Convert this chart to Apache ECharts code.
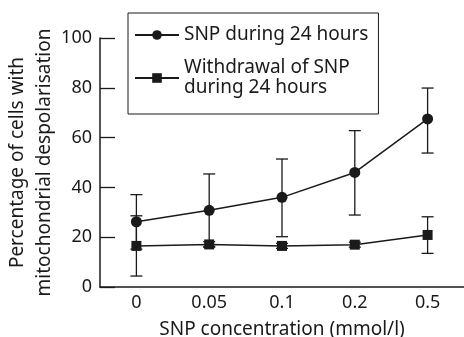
<!DOCTYPE html>
<html>
<head>
<meta charset="utf-8">
<script src="https://cdn.jsdelivr.net/npm/echarts@6/dist/echarts.min.js"></script>
<style>
  html, body { margin: 0; padding: 0; background: #fff; }
  #chart { width: 464px; height: 337px; }
</style>
</head>
<body>
<div id="chart"></div>
<script>
const categories = ['0', '0.05', '0.1', '0.2', '0.5'];
// SNP during 24 hours
const snpMean = [26.2, 30.8, 36.0, 46.0, 67.5];
const snpLow = [15.2, 16.2, 20.2, 28.9, 53.8];
const snpHigh = [37.1, 45.4, 51.4, 62.8, 79.9];
// Withdrawal of SNP during 24 hours
const wdMean = [16.5, 17.1, 16.5, 17.0, 20.9];
const wdLow = [4.4, 16.0, 15.5, 16.0, 13.5];
const wdHigh = [28.6, 18.2, 17.5, 18.0, 28.2];

const yTicks = { min: 0, max: 100, interval: 20 };
const ink = '#1a1a1a';
const font = 'Noto Sans';

const errData = (lo, hi) => categories.map((c, i) => [i, lo[i], hi[i]]);

function errorBars(params, api) {
  const x = api.value(0);
  const lo = api.coord([x, api.value(1)]);
  const hi = api.coord([x, api.value(2)]);
  const half = 6;
  const style = { stroke: ink, lineWidth: 1.3 };
  return {
    type: 'group',
    children: [
      { type: 'line', shape: { x1: lo[0], y1: lo[1], x2: hi[0], y2: hi[1] }, style },
      { type: 'line', shape: { x1: hi[0] - half, y1: hi[1], x2: hi[0] + half, y2: hi[1] }, style },
      { type: 'line', shape: { x1: lo[0] - half, y1: lo[1], x2: lo[0] + half, y2: lo[1] }, style }
    ]
  };
}

const chart = echarts.init(document.getElementById('chart'));
chart.setOption({
  animation: false,
  textStyle: { fontFamily: font, color: ink },
  grid: { left: 100, right: 0, top: 38, bottom: 50, outerBoundsMode: 'none', containLabel: false },
  legend: {
    orient: 'vertical',
    left: 128,
    top: 13,
    padding: [12, 10, 16, 6],
    itemGap: 13,
    itemWidth: 44,
    itemHeight: 12,
    borderColor: ink,
    borderWidth: 1,
    textStyle: { fontSize: 19, color: ink, fontFamily: font, lineHeight: 20 },
    data: ['SNP during 24 hours', 'Withdrawal of SNP\nduring 24 hours']
  },
  xAxis: {
    type: 'category',
    data: categories,
    boundaryGap: true,
    axisLine: { lineStyle: { color: ink, width: 1.5 } },
    axisTick: { inside: true, length: 14, lineStyle: { color: ink, width: 1.3 } },
    axisLabel: { fontSize: 18, color: ink, margin: 7 },
    name: 'SNP concentration (mmol/l)',
    nameLocation: 'middle',
    nameGap: 33,
    nameMoveOverlap: false,
    nameTextStyle: { fontSize: 19, color: ink }
  },
  yAxis: {
    type: 'value',
    min: yTicks.min,
    max: yTicks.max,
    interval: yTicks.interval,
    splitLine: { show: false },
    axisLine: { show: true, lineStyle: { color: ink, width: 1.5 } },
    axisTick: { show: true, inside: true, length: 15, lineStyle: { color: ink, width: 1.3 } },
    axisLabel: { fontSize: 18, color: ink, margin: 8 },
    name: 'Percentage of cells with\nmitochondrial despolarisation',
    nameLocation: 'middle',
    nameRotate: 90,
    nameGap: 42,
    nameMoveOverlap: false,
    nameTextStyle: { fontSize: 19, color: ink, lineHeight: 27 }
  },
  series: [
    {
      type: 'custom',
      renderItem: errorBars,
      data: errData(snpLow, snpHigh),
      encode: { x: 0, y: [1, 2] },
      z: 1
    },
    {
      type: 'custom',
      renderItem: errorBars,
      data: errData(wdLow, wdHigh),
      encode: { x: 0, y: [1, 2] },
      z: 1
    },
    {
      name: 'SNP during 24 hours',
      type: 'line',
      data: snpMean,
      symbol: 'circle',
      symbolSize: 11,
      itemStyle: { color: ink },
      lineStyle: { color: ink, width: 1.5 },
      z: 3
    },
    {
      name: 'Withdrawal of SNP\nduring 24 hours',
      type: 'line',
      data: wdMean,
      symbol: 'rect',
      symbolSize: 10,
      itemStyle: { color: ink },
      lineStyle: { color: ink, width: 1.5 },
      z: 3
    }
  ]
});
</script>
</body>
</html>
